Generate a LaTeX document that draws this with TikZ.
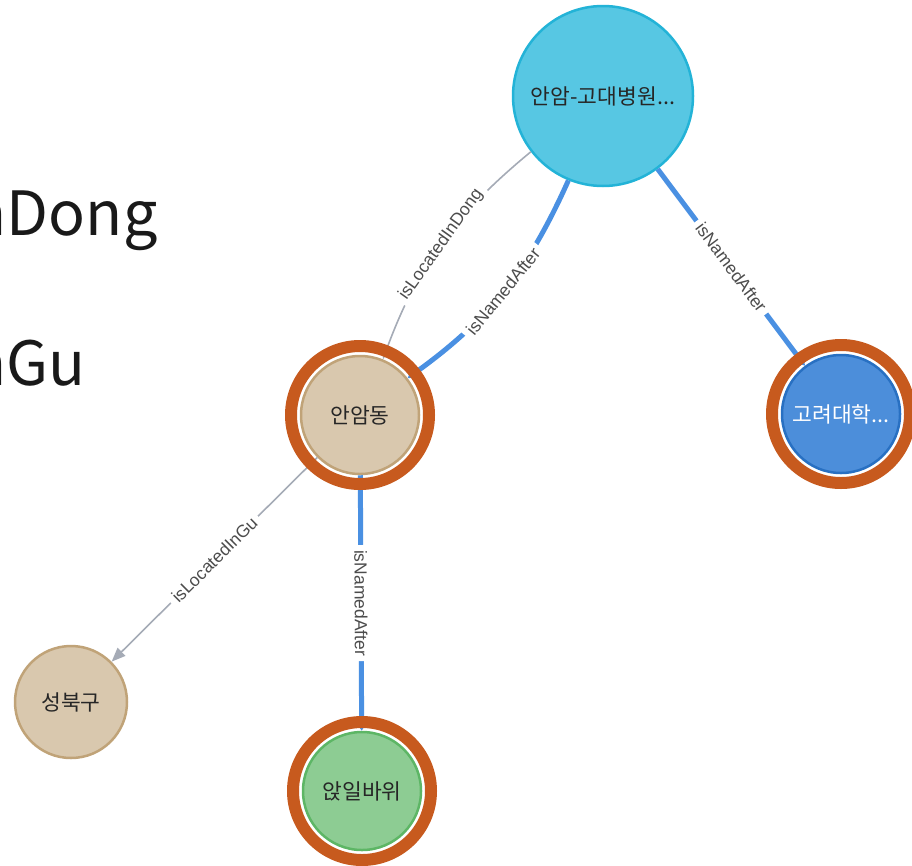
\documentclass[tikz,border=0pt]{standalone}
\usepackage{fontspec}
\setmainfont{Liberation Sans}
\newfontfamily\kr{Noto Sans CJK KR}
\usetikzlibrary{arrows.meta}
\definecolor{ringor}{RGB}{199,90,30}
\definecolor{edgegrey}{RGB}{165,171,182}
\definecolor{edgeblue}{RGB}{74,144,226}
\definecolor{hospfill}{RGB}{87,199,227}
\definecolor{hospline}{RGB}{35,179,215}
\definecolor{dongfill}{RGB}{217,200,174}
\definecolor{dongline}{RGB}{192,163,120}
\definecolor{unifill}{RGB}{76,142,218}
\definecolor{uniline}{RGB}{40,112,194}
\definecolor{rockfill}{RGB}{141,204,147}
\definecolor{rockline}{RGB}{93,182,101}
\begin{document}
\begin{tikzpicture}[x=1pt,y=-1pt,line join=round,
    ent/.style={circle,minimum size=118pt,inner sep=0pt,line width=2.5pt,
      font=\kr\fontsize{21.5}{21.5}\selectfont,text=black!85},
    loc/.style={draw=edgegrey,line width=1.6pt,-{Triangle[length=14pt,width=11pt]}},
    nam/.style={draw=edgeblue,line width=5pt,-{Triangle[length=12pt,width=15pt]}},
    lbl/.style={sloped,fill=white,inner sep=5pt,text=black!70,
      font=\fontsize{17.5}{17.5}\selectfont},
    ring/.style={draw=ringor,line width=12pt},
    big/.style={anchor=base east,font=\kr\fontsize{61}{66}\selectfont,text=black!90}]
  \useasboundingbox (0,0) rectangle (912,865);
  \clip (0,0) rectangle (912,865);
  % cut-off text on the left
  \node[big] (dongtxt) at (161,235) {nDong};
  \node[big] (gutxt) at (89,385) {nGu};
  % entities
  \node[ent,minimum size=180pt,fill=hospfill,draw=hospline] (hosp) at (603,96) {안암-고대병원...};
  \node[ent,fill=dongfill,draw=dongline] (andong) at (360,415) {안암동};
  \node[ent,fill=unifill,draw=uniline,text=white] (korea) at (841,414) {고려대학...};
  \node[ent,minimum size=112pt,fill=dongfill,draw=dongline] (sbg) at (71,702) {성북구};
  \node[ent,fill=rockfill,draw=rockline] (rock) at (362,791) {앉일바위};
  % relations
  \draw[loc] (hosp) to[bend right=15] node[lbl]{isLocatedInDong} (andong);
  \draw[nam] (hosp) to[bend left=15] node[lbl]{isNamedAfter} (andong);
  \draw[nam] (hosp) -- node[lbl]{isNamedAfter} (korea);
  \draw[loc] (andong) -- node[lbl]{isLocatedInGu} (sbg);
  \draw[nam] (andong) -- node[lbl]{isNamedAfter} (rock);
  % highlight rings
  \foreach \n in {andong,korea,rock} \draw[ring] (\n) circle (69pt);
\end{tikzpicture}
\end{document}
